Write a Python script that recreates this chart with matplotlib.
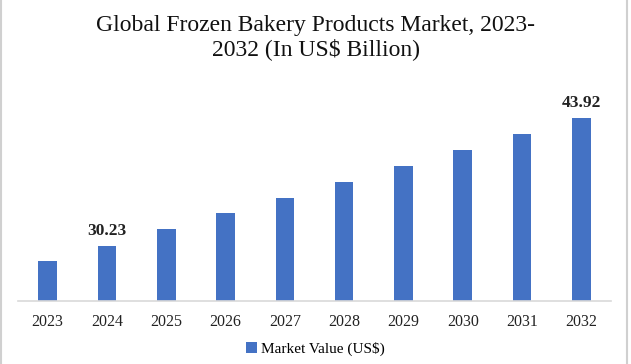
import matplotlib.pyplot as plt
from matplotlib.lines import Line2D

years = ['2023', '2024', '2025', '2026', '2027', '2028', '2029', '2030', '2031', '2032']
values = [28.55, 30.23, 32.0, 33.7, 35.35, 37.1, 38.8, 40.5, 42.25, 43.92]
shown_labels = {'2024': '30.23', '2032': '43.92'}

bar_color = '#4472C4'
plt.rcParams['font.family'] = ['Liberation Serif', 'DejaVu Serif']

fig = plt.figure(figsize=(6.31, 3.64), dpi=100)
ax = fig.add_axes([18 / 631, 1 - 300.5 / 364, 593 / 631, 200.5 / 364])

x = range(len(years))
bars = ax.bar(x, values, width=0.315, color=bar_color, label='Market Value (US$)')
ax.set_xlim(-0.5, len(years) - 0.5)
ax.set_ylim(24.34, 45.89)

for rect, yr, v in zip(bars, years, values):
    if yr in shown_labels:
        ax.annotate(shown_labels[yr], (rect.get_x() + rect.get_width() / 2, v),
                    xytext=(0, 5), textcoords='offset points', ha='center', va='bottom',
                    fontsize=12.5, fontweight='bold', color='#222222')

ax.set_xticks(list(x))
ax.set_xticklabels(years, fontsize=11.5, color='#222222')
ax.tick_params(axis='x', length=0, pad=10)
ax.set_yticks([])
for s in ['top', 'right', 'left']:
    ax.spines[s].set_visible(False)
ax.spines['bottom'].set_color('#d9d9d9')
ax.spines['bottom'].set_linewidth(1.2)

fig.text(0.5, 1 - 37.5 / 364, 'Global Frozen Bakery Products Market, 2023-\n2032 (In US$ Billion)',
         ha='center', va='center', fontsize=17, linespacing=1.12, color='#111111')

fig.legend(handles=[bars], labels=['Market Value (US$)'], loc='center',
           bbox_to_anchor=(0.5, 1 - 349 / 364), frameon=False, fontsize=11,
           handlelength=0.7, handleheight=0.7, handletextpad=0.3)

fig.add_artist(Line2D([0.5 / 631, 0.5 / 631], [0, 1], color='#d0d0d0', lw=1.5))
fig.add_artist(Line2D([627 / 631, 627 / 631], [0, 1], color='#d0d0d0', lw=1.5))

fig.savefig('out.png', dpi=100)
